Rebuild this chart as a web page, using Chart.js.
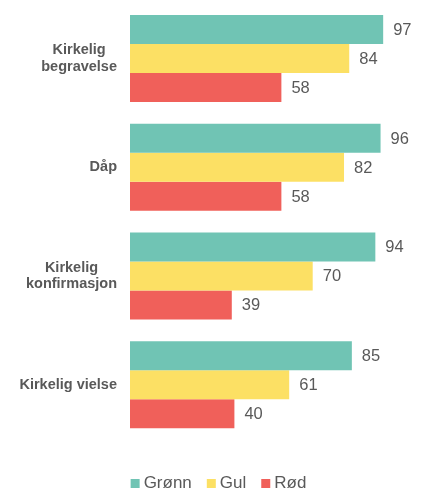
<!DOCTYPE html>
<html>
<head>
<meta charset="utf-8">
<script src="https://cdn.jsdelivr.net/npm/chart.js@4"></script>
<style>
  html, body { margin: 0; padding: 0; background: #ffffff; }
  #wrap { width: 428px; height: 494px; position: relative; }
</style>
</head>
<body>
<div id="wrap"><canvas id="c"></canvas></div>
<script>
const categories = [["Kirkelig", "begravelse"], ["Dåp"], ["Kirkelig", "konfirmasjon"], ["Kirkelig vielse"]];
const seriesNames = ["Grønn", "Gul", "Rød"];
const gronn = [97, 96, 94, 85];
const gul = [84, 82, 70, 61];
const rod = [58, 58, 39, 40];
const colors = ["#70c4b4", "#fce064", "#f0605a"];
const textColor = "#595959";
const fontFamily = "'Liberation Sans', Arial, sans-serif";

const valueLabels = {
  id: "valueLabels",
  afterDatasetsDraw(chart) {
    const ctx = chart.ctx;
    ctx.save();
    ctx.font = "16.5px " + fontFamily;
    ctx.fillStyle = textColor;
    ctx.textAlign = "left";
    ctx.textBaseline = "middle";
    chart.data.datasets.forEach((ds, di) => {
      const meta = chart.getDatasetMeta(di);
      meta.data.forEach((el, i) => {
        ctx.fillText(String(ds.data[i]), el.x + 10, el.y + 1);
      });
    });
    ctx.restore();
  }
};

const categoryLabels = {
  id: "categoryLabels",
  afterDraw(chart) {
    const ctx = chart.ctx;
    const yScale = chart.scales.y;
    const right = chart.chartArea.left - 13;
    const lh = 16.5;
    ctx.save();
    ctx.font = "bold 14.5px " + fontFamily;
    ctx.fillStyle = textColor;
    ctx.textAlign = "center";
    ctx.textBaseline = "middle";
    chart.data.labels.forEach((lines, i) => {
      const yc = yScale.getPixelForTick(i);
      let maxW = 0;
      lines.forEach(l => { maxW = Math.max(maxW, ctx.measureText(l).width); });
      const cx = right - maxW / 2;
      const y0 = yc - (lines.length - 1) * lh / 2;
      lines.forEach((l, k) => ctx.fillText(l, cx, y0 + k * lh));
    });
    ctx.restore();
  }
};

const bottomLegend = {
  id: "bottomLegend",
  afterDraw(chart) {
    const ctx = chart.ctx;
    const box = 9, gapText = 4, gapItem = 15;
    const yc = chart.chartArea.bottom + 44;
    ctx.save();
    ctx.font = "17px " + fontFamily;
    ctx.textBaseline = "middle";
    ctx.textAlign = "left";
    const items = chart.data.datasets.map(ds => ({ text: ds.label, color: ds.backgroundColor, w: ctx.measureText(ds.label).width }));
    let total = 0;
    items.forEach((it, i) => { total += box + gapText + it.w + (i < items.length - 1 ? gapItem : 0); });
    let x = 218.5 - total / 2;
    items.forEach(it => {
      ctx.fillStyle = it.color;
      ctx.fillRect(x, yc - 4, box, box);
      ctx.fillStyle = textColor;
      ctx.fillText(it.text, x + box + gapText, yc + 0.5);
      x += box + gapText + it.w + gapItem;
    });
    ctx.restore();
  }
};

new Chart(document.getElementById("c"), {
  type: "bar",
  data: {
    labels: categories,
    datasets: [
      { label: seriesNames[0], data: gronn, backgroundColor: colors[0] },
      { label: seriesNames[1], data: gul, backgroundColor: colors[1] },
      { label: seriesNames[2], data: rod, backgroundColor: colors[2] }
    ]
  },
  options: {
    indexAxis: "y",
    responsive: true,
    maintainAspectRatio: false,
    animation: false,
    layout: { padding: { left: 130, right: 37, top: 4, bottom: 55 } },
    datasets: { bar: { categoryPercentage: 0.8, barPercentage: 1.0 } },
    scales: {
      x: { display: false, min: 0, max: 100 },
      y: { display: false }
    },
    plugins: {
      tooltip: { enabled: false },
      legend: { display: false }
    }
  },
  plugins: [valueLabels, categoryLabels, bottomLegend]
});
</script>
</body>
</html>
